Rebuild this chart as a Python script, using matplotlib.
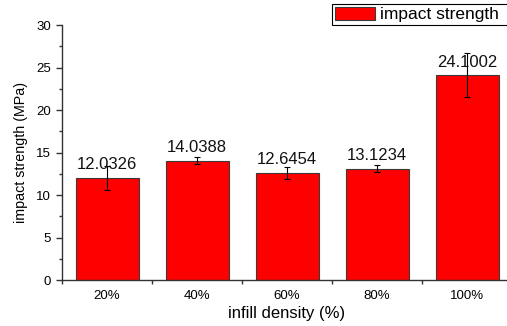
import matplotlib.pyplot as plt
import numpy as np
from matplotlib.ticker import MultipleLocator, FixedLocator

plt.rcParams['font.family'] = ['Liberation Sans', 'DejaVu Sans']

###################################################
# DATA
###################################################
categories = ['20%', '40%', '60%', '80%', '100%']
strength = [12.0326, 14.0388, 12.6454, 13.1234, 24.1002]
strength_err = [1.4, 0.4, 0.7, 0.4, 2.6]
value_labels = ['12.0326', '14.0388', '12.6454', '13.1234', '24.1002']


###################################################
# PLOT
###################################################
fig = plt.figure(figsize=(5.07, 3.26), dpi=100)
ax = fig.add_axes([0.1223, 0.141, 0.8876, 0.782])

x = np.arange(len(categories))
bars = ax.bar(x, strength, width=0.7, color='#ff0000', edgecolor='#3a3a3a',
              linewidth=0.8, label='impact strength', zorder=2)
ax.errorbar(x, strength, yerr=strength_err, fmt='none', ecolor='black',
            elinewidth=0.8, capsize=2.5, capthick=0.8, zorder=3)

for xi, yi, txt in zip(x, strength, value_labels):
    ax.annotate(txt, (xi, yi), xytext=(0, 4), textcoords='offset points',
                ha='center', va='bottom', fontsize=12, color='#111111')

ax.set_xlim(-0.5, 4.5)
ax.set_ylim(0, 30)
ax.set_xticks(x)
ax.set_xticklabels(categories)
ax.xaxis.set_minor_locator(FixedLocator([-0.5, 0.5, 1.5, 2.5, 3.5]))
ax.yaxis.set_major_locator(MultipleLocator(5))
ax.yaxis.set_minor_locator(MultipleLocator(2.5))

ax.tick_params(axis='x', which='major', length=0, pad=7, labelsize=9.5)
ax.tick_params(axis='x', which='minor', length=3, width=1, color='#333333')
ax.tick_params(axis='y', which='major', length=4.5, width=1, color='#333333', labelsize=9.5)
ax.tick_params(axis='y', which='minor', length=2.5, width=1, color='#333333')

for side in ['top', 'right']:
    ax.spines[side].set_visible(False)
for side in ['left', 'bottom']:
    ax.spines[side].set_color('#333333')
    ax.spines[side].set_linewidth(1.0)

ax.set_xlabel('infill density (%)', fontsize=12, labelpad=3)
ax.set_ylabel('impact strength (MPa)', fontsize=10.3, labelpad=6)

# legend box runs off the right edge, as in the original
leg = fig.legend(handles=[bars], labels=['impact strength'], loc='upper left',
                 bbox_to_anchor=(332 / 507, 1 - 4 / 326, 0.36, 0), mode='expand',
                 fontsize=12.5, fancybox=False, edgecolor='black', framealpha=1,
                 handlelength=2.3, handleheight=0.8, borderpad=0.15,
                 handletextpad=0.3, borderaxespad=0)
leg.get_frame().set_linewidth(0.8)

fig.savefig('out.png', dpi=100)
